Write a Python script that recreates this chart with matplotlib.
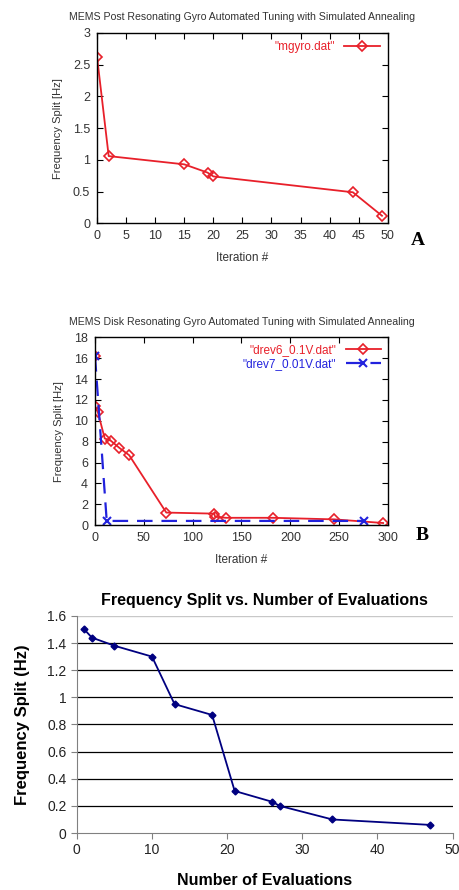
import matplotlib
matplotlib.use("Agg")
import matplotlib.pyplot as plt
import numpy as np

# Panel A data
a_x = [0, 2, 15, 19, 20, 44, 49]
a_y = [2.62, 1.06, 0.93, 0.80, 0.74, 0.49, 0.12]

# Panel B data
b1_x = [0, 0, 3, 10, 16, 25, 35, 73, 122, 123, 134, 182, 245, 295]
b1_y = [16.2, 11.4, 10.8, 8.3, 8.1, 7.4, 6.7, 1.2, 1.1, 0.8, 0.7, 0.7, 0.55, 0.2]
b2_x = [0, 12, 275]
b2_y = [16.2, 0.4, 0.4]

# Panel C data
c_x = [1, 2, 5, 10, 13, 18, 21, 26, 27, 34, 47]
c_y = [1.50, 1.44, 1.38, 1.30, 0.95, 0.87, 0.31, 0.23, 0.20, 0.10, 0.06]

gp_font = "Liberation Sans"
txt = "#333333"

fig = plt.figure(figsize=(4.6, 8.9), dpi=100)

def gnuplot_style(ax):
    for s in ax.spines.values():
        s.set_color("black")
        s.set_linewidth(1.0)
    ax.tick_params(direction="in", top=True, right=True, length=4,
                   labelsize=9, colors="black", labelcolor=txt, pad=5)
    for lab in ax.get_xticklabels() + ax.get_yticklabels():
        lab.set_family(gp_font)

# ---- Panel A ----
axA = fig.add_axes([0.211, 0.749, 0.632, 0.214])
axA.plot(a_x, a_y, color="#e8202a", lw=1.3, marker="D", mfc="none",
         mec="#e8202a", ms=5, mew=1.2, label='"mgyro.dat"')
axA.set_xlim(0, 50)
axA.set_ylim(0, 3)
axA.set_xticks(np.arange(0, 51, 5))
axA.set_yticks([0, 0.5, 1, 1.5, 2, 2.5, 3])
axA.set_yticklabels(["0", "0.5", "1", "1.5", "2", "2.5", "3"])
gnuplot_style(axA)
axA.set_title("MEMS Post Resonating Gyro Automated Tuning with Simulated Annealing",
              fontsize=7.6, family=gp_font, color=txt, pad=9)
axA.set_xlabel("Iteration #", fontsize=8.5, family=gp_font, color=txt, labelpad=7)
axA.set_ylabel("Frequency Split [Hz]", fontsize=8, family=gp_font, color=txt, labelpad=7)
legA = axA.legend(loc="upper right", frameon=False, markerfirst=False,
                  handlelength=3.0, borderaxespad=0.3,
                  prop={"family": gp_font, "size": 8.5})
for t in legA.get_texts():
    t.set_color("#e8202a")
fig.text(418 / 460, 1 - 241 / 890, "A", fontsize=14, fontweight="bold",
         family="Liberation Serif", ha="center", va="center")

# ---- Panel B ----
axB = fig.add_axes([0.2065, 0.410, 0.637, 0.211])
axB.plot(b1_x, b1_y, color="#e8202a", lw=1.3, marker="D", mfc="none",
         mec="#e8202a", ms=5, mew=1.2, label='"drev6_0.1V.dat"')
axB.plot(b2_x, b2_y, color="#2222dd", lw=1.6, ls=(0, (7, 4)), marker="x",
         mec="#2222dd", ms=6, mew=1.5, label='"drev7_0.01V.dat"')
axB.set_xlim(0, 300)
axB.set_ylim(0, 18)
axB.set_xticks(np.arange(0, 301, 50))
axB.set_yticks(np.arange(0, 19, 2))
gnuplot_style(axB)
axB.set_title("MEMS Disk Resonating Gyro Automated Tuning with Simulated Annealing",
              fontsize=7.6, family=gp_font, color=txt, pad=9)
axB.set_xlabel("Iteration #", fontsize=8.5, family=gp_font, color=txt, labelpad=7)
axB.set_ylabel("Frequency Split [Hz]", fontsize=8, family=gp_font, color=txt, labelpad=7)
legB = axB.legend(loc="upper right", frameon=False, markerfirst=False,
                  handlelength=3.0, borderaxespad=0.2, labelspacing=0.15,
                  prop={"family": gp_font, "size": 8.5})
for t, c in zip(legB.get_texts(), ["#e8202a", "#2222dd"]):
    t.set_color(c)
fig.text(422 / 460, 1 - 536 / 890, "B", fontsize=14, fontweight="bold",
         family="Liberation Serif", ha="center", va="center")

# ---- Panel C ----
axC = fig.add_axes([0.167, 0.064, 0.817, 0.244])
axC.plot(c_x, c_y, color="#000080", lw=1.3, marker="D", ms=3.5, mfc="#000080",
         mec="#000080")
axC.set_xlim(0, 50)
axC.set_ylim(0, 1.6)
axC.set_xticks(np.arange(0, 51, 10))
axC.set_yticks([0, 0.2, 0.4, 0.6, 0.8, 1.0, 1.2, 1.4, 1.6])
axC.set_yticklabels(["0", "0.2", "0.4", "0.6", "0.8", "1", "1.2", "1.4", "1.6"])
for yv in [0.2, 0.4, 0.6, 0.8, 1.0, 1.2, 1.4]:
    axC.axhline(yv, color="black", lw=0.9, zorder=0)
axC.axhline(1.6, color="#c8c8c8", lw=1.0, zorder=0)
axC.spines["top"].set_visible(False)
axC.spines["right"].set_visible(False)
axC.spines["left"].set_color("#808080")
axC.spines["bottom"].set_color("#808080")
axC.tick_params(direction="out", length=4, colors="#808080", labelcolor="#222222",
                labelsize=10)
for lab in axC.get_xticklabels() + axC.get_yticklabels():
    lab.set_family("Liberation Sans")
axC.set_title("Frequency Split vs. Number of Evaluations", fontsize=11.5,
              fontweight="bold", family="Liberation Sans", pad=8)
axC.set_xlabel("Number of Evaluations", fontsize=11.5, fontweight="bold",
               family="Liberation Sans", labelpad=11)
axC.set_ylabel("Frequency Split (Hz)", fontsize=12, fontweight="bold",
               family="Liberation Sans", labelpad=12)

fig.savefig("out.png", dpi=100)
